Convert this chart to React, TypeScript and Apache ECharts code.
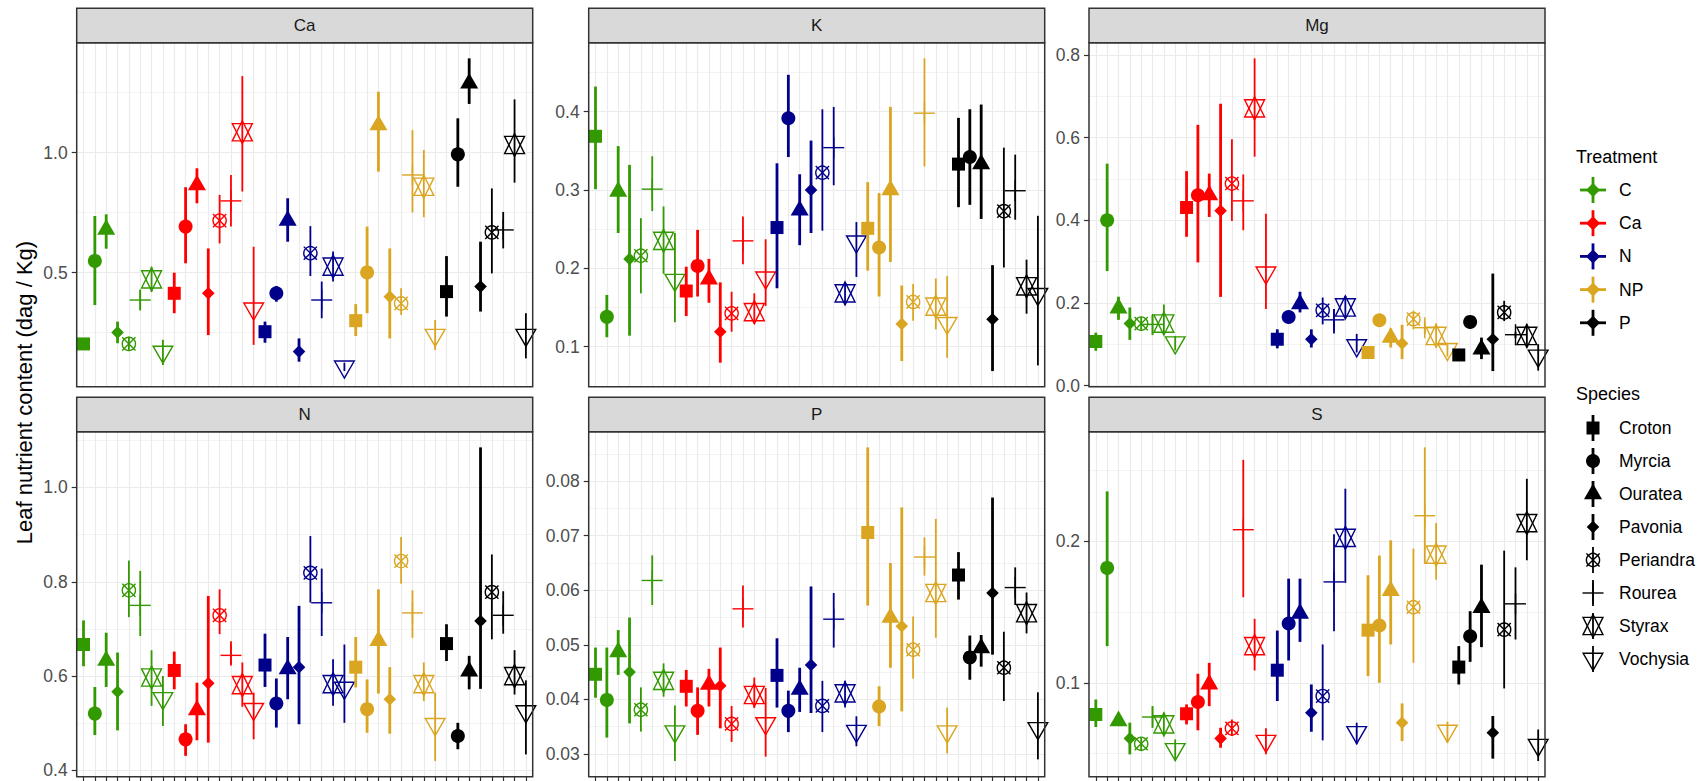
import React, { useEffect, useRef } from 'react';
import * as echarts from 'echarts';

// ---- categories ----
const treatments = ['C', 'Ca', 'N', 'NP', 'P'];
const species = ['Croton', 'Myrcia', 'Ouratea', 'Pavonia', 'Periandra', 'Rourea', 'Styrax', 'Vochysia'];
const treatmentColors = ['#339900', '#FF0000', '#00008B', '#DAA520', '#000000'];

// ---- values: 40 per nutrient, ordered treatment (C, Ca, N, NP, P) x species ----
const caMean = [
  0.203, 0.549, 0.680, 0.251, 0.203, 0.386, 0.472, 0.170,
  0.414, 0.692, 0.865, 0.414, 0.717, 0.799, 1.085, 0.350,
  0.254, 0.414, 0.717, 0.171, 0.581, 0.386, 0.525, 0.108,
  0.300, 0.501, 1.115, 0.400, 0.372, 0.907, 0.858, 0.240,
  0.421, 0.993, 1.289, 0.442, 0.668, 0.678, 1.032, 0.240,
];
const caLow = [
  0.190, 0.365, 0.600, 0.206, 0.178, 0.344, 0.420, 0.115,
  0.331, 0.539, 0.789, 0.240, 0.622, 0.692, 0.838, 0.199,
  0.208, 0.379, 0.629, 0.129, 0.486, 0.310, 0.463, 0.090,
  0.236, 0.331, 0.921, 0.226, 0.324, 0.751, 0.731, 0.178,
  0.317, 0.858, 1.203, 0.338, 0.497, 0.601, 0.875, 0.143,
];
const caHigh = [
  0.225, 0.736, 0.743, 0.296, 0.233, 0.428, 0.525, 0.220,
  0.500, 0.856, 0.935, 0.601, 0.824, 0.907, 1.319, 0.608,
  0.296, 0.444, 0.810, 0.226, 0.694, 0.463, 0.588, 0.125,
  0.369, 0.692, 1.254, 0.601, 0.435, 1.094, 1.011, 0.303,
  0.569, 1.143, 1.393, 0.629, 0.851, 0.753, 1.222, 0.331,
];

const kMean = [
  0.3685, 0.138, 0.298, 0.212, 0.216, 0.301, 0.235, 0.185,
  0.171, 0.203, 0.186, 0.119, 0.1425, 0.235, 0.144, 0.188,
  0.252, 0.3915, 0.274, 0.300, 0.322, 0.354, 0.168, 0.234,
  0.251, 0.2265, 0.300, 0.129, 0.157, 0.398, 0.151, 0.130,
  0.333, 0.342, 0.333, 0.135, 0.273, 0.299, 0.177, 0.167,
];
const kLow = [
  0.301, 0.112, 0.245, 0.114, 0.168, 0.273, 0.193, 0.131,
  0.139, 0.164, 0.156, 0.0795, 0.119, 0.205, 0.129, 0.152,
  0.1745, 0.342, 0.2295, 0.245, 0.248, 0.306, 0.153, 0.189,
  0.197, 0.164, 0.208, 0.0816, 0.133, 0.330, 0.122, 0.0858,
  0.278, 0.281, 0.263, 0.0688, 0.201, 0.262, 0.142, 0.076,
];
const kHigh = [
  0.432, 0.166, 0.356, 0.332, 0.264, 0.343, 0.279, 0.245,
  0.202, 0.249, 0.212, 0.182, 0.170, 0.266, 0.168, 0.237,
  0.334, 0.447, 0.320, 0.363, 0.403, 0.406, 0.182, 0.259,
  0.310, 0.296, 0.406, 0.178, 0.180, 0.468, 0.187, 0.190,
  0.392, 0.403, 0.409, 0.204, 0.354, 0.345, 0.211, 0.267,
];

const mgMean = [
  0.1065, 0.400, 0.187, 0.150, 0.150, 0.148, 0.150, 0.104,
  0.431, 0.4605, 0.461, 0.423, 0.489, 0.447, 0.671, 0.273,
  0.112, 0.166, 0.197, 0.112, 0.182, 0.159, 0.189, 0.097,
  0.080, 0.158, 0.116, 0.102, 0.1605, 0.140, 0.120, 0.088,
  0.074, 0.154, 0.088, 0.112, 0.177, 0.123, 0.120, 0.072,
];
const mgLow = [
  0.084, 0.277, 0.159, 0.1105, 0.134, 0.122, 0.124, 0.085,
  0.360, 0.298, 0.408, 0.2145, 0.398, 0.376, 0.554, 0.185,
  0.090, 0.152, 0.177, 0.092, 0.148, 0.126, 0.165, 0.080,
  0.070, 0.151, 0.092, 0.064, 0.136, 0.125, 0.100, 0.070,
  0.068, 0.148, 0.064, 0.035, 0.156, 0.115, 0.092, 0.036,
];
const mgHigh = [
  0.128, 0.537, 0.215, 0.189, 0.166, 0.170, 0.196, 0.120,
  0.519, 0.631, 0.513, 0.682, 0.596, 0.511, 0.792, 0.416,
  0.136, 0.181, 0.227, 0.136, 0.213, 0.185, 0.217, 0.125,
  0.090, 0.165, 0.138, 0.147, 0.181, 0.155, 0.150, 0.100,
  0.080, 0.160, 0.116, 0.271, 0.205, 0.130, 0.148, 0.100,
];

const nMean = [
  0.667, 0.5205, 0.633, 0.567, 0.782, 0.750, 0.597, 0.553,
  0.612, 0.466, 0.528, 0.585, 0.729, 0.644, 0.581, 0.530,
  0.6235, 0.542, 0.615, 0.619, 0.819, 0.7555, 0.583, 0.575,
  0.619, 0.530, 0.675, 0.551, 0.844, 0.734, 0.583, 0.498,
  0.669, 0.473, 0.610, 0.717, 0.778, 0.729, 0.600, 0.525,
];
const nLow = [
  0.621, 0.475, 0.577, 0.485, 0.725, 0.685, 0.537, 0.494,
  0.572, 0.431, 0.464, 0.459, 0.689, 0.624, 0.535, 0.466,
  0.577, 0.491, 0.551, 0.498, 0.756, 0.685, 0.537, 0.501,
  0.576, 0.480, 0.563, 0.478, 0.796, 0.681, 0.547, 0.420,
  0.632, 0.445, 0.572, 0.573, 0.678, 0.690, 0.561, 0.434,
];
const nHigh = [
  0.718, 0.577, 0.692, 0.650, 0.845, 0.823, 0.655, 0.600,
  0.652, 0.498, 0.586, 0.770, 0.784, 0.674, 0.629, 0.565,
  0.690, 0.595, 0.683, 0.749, 0.897, 0.828, 0.636, 0.667,
  0.683, 0.593, 0.784, 0.619, 0.895, 0.782, 0.629, 0.565,
  0.710, 0.501, 0.643, 1.085, 0.858, 0.780, 0.655, 0.591,
];

const pMean = [
  0.0446, 0.0399, 0.0487, 0.0450, 0.0381, 0.0618, 0.0434, 0.0341,
  0.0424, 0.0379, 0.0427, 0.0425, 0.0355, 0.0566, 0.0408, 0.0356,
  0.0444, 0.0379, 0.0418, 0.0463, 0.0388, 0.0547, 0.0411, 0.0342,
  0.0706, 0.0387, 0.0550, 0.0534, 0.0491, 0.0661, 0.0595, 0.0341,
  0.0628, 0.0477, 0.0494, 0.0595, 0.0458, 0.0605, 0.0558, 0.0347,
];
const pLow = [
  0.0403, 0.0330, 0.0445, 0.0356, 0.0341, 0.0573, 0.0405, 0.0287,
  0.0387, 0.0335, 0.0387, 0.0347, 0.0322, 0.0532, 0.0384, 0.0295,
  0.0385, 0.0340, 0.0377, 0.0375, 0.0340, 0.0495, 0.0385, 0.0314,
  0.0572, 0.0351, 0.0458, 0.0378, 0.0438, 0.0627, 0.0513, 0.0301,
  0.0583, 0.0436, 0.0460, 0.0482, 0.0397, 0.0573, 0.0521, 0.0290,
];
const pHigh = [
  0.0495, 0.0495, 0.0527, 0.0550, 0.0422, 0.0664, 0.0466, 0.0389,
  0.0454, 0.0422, 0.0456, 0.0495, 0.0388, 0.0609, 0.0440, 0.0421,
  0.0512, 0.0416, 0.0458, 0.0607, 0.0434, 0.0595, 0.0434, 0.0369,
  0.0862, 0.0424, 0.0650, 0.0752, 0.0552, 0.0697, 0.0731, 0.0385,
  0.0670, 0.0517, 0.0518, 0.0770, 0.0524, 0.0642, 0.0596, 0.0413,
];

const sMean = [
  0.0776, 0.1812, 0.073, 0.0607, 0.0569, 0.0758, 0.0706, 0.053,
  0.0781, 0.0864, 0.099, 0.0607, 0.0678, 0.2082, 0.1259, 0.0588,
  0.1089, 0.1419, 0.149, 0.0788, 0.0906, 0.1713, 0.2024, 0.065,
  0.1372, 0.1405, 0.165, 0.0718, 0.1534, 0.2181, 0.1906, 0.066,
  0.1111, 0.1329, 0.153, 0.0647, 0.1376, 0.1558, 0.2129, 0.056,
];
const sLow = [
  0.0687, 0.1259, 0.070, 0.0494, 0.0518, 0.0682, 0.0635, 0.045,
  0.0706, 0.0664, 0.0835, 0.0541, 0.0624, 0.1605, 0.1087, 0.0494,
  0.0871, 0.1158, 0.1289, 0.0654, 0.0593, 0.1365, 0.1706, 0.0565,
  0.1047, 0.100, 0.1271, 0.0588, 0.1141, 0.184, 0.1729, 0.0576,
  0.0988, 0.1148, 0.1252, 0.0464, 0.096, 0.1306, 0.1866, 0.0447,
];
const sHigh = [
  0.0882, 0.2353, 0.078, 0.0718, 0.0612, 0.0835, 0.0788, 0.060,
  0.0847, 0.1064, 0.1141, 0.0682, 0.0741, 0.2576, 0.1452, 0.0678,
  0.1369, 0.1736, 0.1736, 0.0988, 0.1271, 0.205, 0.2372, 0.0718,
  0.176, 0.1899, 0.2007, 0.0854, 0.1948, 0.2664, 0.2129, 0.0725,
  0.1259, 0.1506, 0.1835, 0.0765, 0.1934, 0.1816, 0.2442, 0.067,
];

// ---- y tick labels per panel ----
const caBreaks = [0.5, 1.0];
const kBreaks = [0.1, 0.2, 0.3, 0.4];
const mgBreaks = [0.0, 0.2, 0.4, 0.6, 0.8];
const nBreaks = [0.4, 0.6, 0.8, 1.0];
const pBreaks = [0.03, 0.04, 0.05, 0.06, 0.07, 0.08];
const sBreaks = [0.1, 0.2];

const panels = [
  { name: 'Ca', mean: caMean, low: caLow, high: caHigh, breaks: caBreaks, digits: 1, splitNumber: 3 },
  { name: 'K', mean: kMean, low: kLow, high: kHigh, breaks: kBreaks, digits: 1, splitNumber: 5 },
  { name: 'Mg', mean: mgMean, low: mgLow, high: mgHigh, breaks: mgBreaks, digits: 1, splitNumber: 4 },
  { name: 'N', mean: nMean, low: nLow, high: nHigh, breaks: nBreaks, digits: 1, splitNumber: 4 },
  { name: 'P', mean: pMean, low: pLow, high: pHigh, breaks: pBreaks, digits: 2, splitNumber: 6 },
  { name: 'S', mean: sMean, low: sLow, high: sHigh, breaks: sBreaks, digits: 1, splitNumber: 3 },
];

// ---- layout ----
const FONT = '"Liberation Sans", Arial, Helvetica, sans-serif';
const COL_LEFT = [76.7, 588.7, 1089];
const PANEL_W = 456;
const ROW_TOP = [42.7, 431.7];
const ROW_H = [344, 345];
const STRIP_H = 34.4;
const GRID_COLOR = '#ebebeb';
const DARK = '#333333';

// one x slot per treatment x species combination
const xPositions = treatments.flatMap((_, t) => species.map((__, s) => t * species.length + s + 1));

// R-style triangle constants
const TRC0 = Math.sqrt((4 * Math.PI) / (3 * Math.sqrt(3)));
const TRC1 = (TRC0 * Math.sqrt(3)) / 2;
const TRC2 = TRC0 / 2;

function isOpen(s: number) {
  return s >= 4;
}

function markerEls(s: number, cx: number, cy: number, color: string): any[] {
  const lw = 1.4;
  const open = { fill: 'none', stroke: color, lineWidth: lw };
  switch (s) {
    case 0:
      return [{ type: 'rect', shape: { x: cx - 6.5, y: cy - 6.5, width: 13, height: 13 }, style: { fill: color } }];
    case 1:
      return [{ type: 'circle', shape: { cx, cy, r: 7 }, style: { fill: color } }];
    case 2: {
      const r = 6.7;
      return [{
        type: 'polygon',
        shape: { points: [[cx, cy - TRC0 * r], [cx + TRC1 * r, cy + TRC2 * r], [cx - TRC1 * r, cy + TRC2 * r]] },
        style: { fill: color },
      }];
    }
    case 3: {
      const d = 6.3;
      return [{
        type: 'polygon',
        shape: { points: [[cx, cy - d], [cx + d, cy], [cx, cy + d], [cx - d, cy]] },
        style: { fill: color },
      }];
    }
    case 4: {
      const r = 6.6;
      return [
        { type: 'circle', shape: { cx, cy, r }, style: { ...open } },
        { type: 'line', shape: { x1: cx - r, y1: cy - r, x2: cx + r, y2: cy + r }, style: { stroke: color, lineWidth: lw } },
        { type: 'line', shape: { x1: cx - r, y1: cy + r, x2: cx + r, y2: cy - r }, style: { stroke: color, lineWidth: lw } },
      ];
    }
    case 5: {
      const h = 10.5;
      return [
        { type: 'line', shape: { x1: cx - h, y1: cy, x2: cx + h, y2: cy }, style: { stroke: color, lineWidth: lw } },
        { type: 'line', shape: { x1: cx, y1: cy - h, x2: cx, y2: cy + h }, style: { stroke: color, lineWidth: lw } },
      ];
    }
    case 6: {
      // triangles point-up and point-down, bars pulled out towards the tips
      const R = 7.4;
      const rr = TRC0 * R;
      const yc = 0.5 * (TRC2 * R + rr);
      const xc = TRC1 * R;
      return [
        { type: 'polygon', shape: { points: [[cx, cy - rr], [cx + xc, cy + yc], [cx - xc, cy + yc]] }, style: { ...open } },
        { type: 'polygon', shape: { points: [[cx, cy + rr], [cx + xc, cy - yc], [cx - xc, cy - yc]] }, style: { ...open } },
      ];
    }
    default: {
      const R = 7.3;
      return [{
        type: 'polygon',
        shape: { points: [[cx, cy + TRC0 * R], [cx + TRC1 * R, cy - TRC2 * R], [cx - TRC1 * R, cy - TRC2 * R]] },
        style: { ...open },
      }];
    }
  }
}

function renderPoint(params: any, api: any) {
  const x = api.value(0);
  const m = api.value(1);
  const lo = api.value(2);
  const hi = api.value(3);
  const t = api.value(4);
  const s = api.value(5);
  const color = treatmentColors[t];
  const pm = api.coord([x, m]);
  const pl = api.coord([x, lo]);
  const ph = api.coord([x, hi]);
  return {
    type: 'group',
    children: [
      {
        type: 'line',
        shape: { x1: pm[0], y1: pl[1], x2: pm[0], y2: ph[1] },
        style: { stroke: color, lineWidth: isOpen(s) ? 1.8 : 2.8 },
      },
      ...markerEls(s, pm[0], pm[1], color),
    ],
  };
}

function buildOption() {
  const grids: any[] = [];
  const xAxes: any[] = [];
  const yAxes: any[] = [];
  const series: any[] = [];
  const graphics: any[] = [];

  panels.forEach((p, i) => {
    const row = Math.floor(i / 3);
    const col = i % 3;
    const left = COL_LEFT[col];
    const top = ROW_TOP[row];
    const height = ROW_H[row];
    grids.push({ left, top, width: PANEL_W, height, show: false, containLabel: false, outerBoundsMode: 'none' });

    const lo = Math.min(...p.low);
    const hi = Math.max(...p.high);
    const pad = (hi - lo) * 0.05;

    xAxes.push({
      type: 'value',
      gridIndex: i,
      min: 0.4,
      max: 40.6,
      axisLine: { show: false },
      axisLabel: { show: false },
      axisTick: { show: row === 1, length: 5, lineStyle: { color: DARK, width: 1.2 }, customValues: xPositions },
      splitLine: { show: true, lineStyle: { color: GRID_COLOR, width: 1.2 } },
    });
    yAxes.push({
      type: 'value',
      gridIndex: i,
      min: lo - pad,
      max: hi + pad,
      splitNumber: p.splitNumber,
      axisLine: { show: false },
      axisTick: { show: true, length: 5, lineStyle: { color: DARK, width: 1.2 }, customValues: p.breaks },
      axisLabel: {
        customValues: p.breaks,
        formatter: (v: number) => v.toFixed(p.digits),
        color: '#4d4d4d',
        fontSize: 17.5,
        fontFamily: FONT,
        margin: 9,
      },
      splitLine: { show: true, lineStyle: { color: GRID_COLOR, width: 1.2 } },
      minorTick: { show: false, splitNumber: 2 },
      minorSplitLine: { show: true, lineStyle: { color: GRID_COLOR, width: 0.6 } },
    });

    const data = p.mean.map((v, k) => [xPositions[k], v, p.low[k], p.high[k], Math.floor(k / species.length), k % species.length]);
    series.push({
      type: 'custom',
      xAxisIndex: i,
      yAxisIndex: i,
      data,
      encode: { x: 0, y: [1, 2, 3] },
      renderItem: renderPoint,
      clip: false,
      silent: true,
      z: 5,
    });

    // panel border and strip
    graphics.push({
      type: 'rect',
      z: 50,
      shape: { x: left, y: top, width: PANEL_W, height },
      style: { fill: 'none', stroke: DARK, lineWidth: 1.5 },
    });
    graphics.push({
      type: 'rect',
      z: 50,
      shape: { x: left, y: top - STRIP_H, width: PANEL_W, height: STRIP_H },
      style: { fill: '#d9d9d9', stroke: DARK, lineWidth: 1.5 },
    });
    graphics.push({
      type: 'text',
      z: 51,
      x: left + PANEL_W / 2,
      y: top - STRIP_H / 2,
      style: { text: p.name, font: `17px ${FONT}`, fill: '#1a1a1a', textAlign: 'center', textVerticalAlign: 'middle' },
    });
  });

  // y-axis title
  graphics.push({
    type: 'text',
    z: 51,
    x: 24,
    y: 392.5,
    rotation: Math.PI / 2,
    style: {
      text: 'Leaf nutrient content (dag / Kg)',
      font: `22px ${FONT}`,
      fill: '#000000',
      textAlign: 'center',
      textVerticalAlign: 'middle',
    },
  });

  // legends
  const keyX = 1593;
  const labelX = 1619;
  graphics.push({
    type: 'text', z: 51, x: 1576, y: 157,
    style: { text: 'Treatment', font: `18px ${FONT}`, fill: '#000000', textAlign: 'left', textVerticalAlign: 'middle' },
  });
  treatments.forEach((t, i) => {
    const y = 190 + i * 33.2;
    const c = treatmentColors[i];
    graphics.push({ type: 'line', z: 51, shape: { x1: keyX, y1: y - 13, x2: keyX, y2: y + 13 }, style: { stroke: c, lineWidth: 2.8 } });
    graphics.push({ type: 'line', z: 51, shape: { x1: keyX - 13, y1: y, x2: keyX + 13, y2: y }, style: { stroke: c, lineWidth: 2.8 } });
    graphics.push({ type: 'polygon', z: 51, shape: { points: [[keyX, y - 7], [keyX + 7, y], [keyX, y + 7], [keyX - 7, y]] }, style: { fill: c } });
    graphics.push({
      type: 'text', z: 51, x: labelX, y,
      style: { text: t, font: `17.5px ${FONT}`, fill: '#000000', textAlign: 'left', textVerticalAlign: 'middle' },
    });
  });
  graphics.push({
    type: 'text', z: 51, x: 1576, y: 394,
    style: { text: 'Species', font: `18px ${FONT}`, fill: '#000000', textAlign: 'left', textVerticalAlign: 'middle' },
  });
  species.forEach((s, i) => {
    const y = 428 + i * 33;
    graphics.push({
      type: 'line', z: 51,
      shape: { x1: keyX, y1: y - 13, x2: keyX, y2: y + 13 },
      style: { stroke: '#000000', lineWidth: isOpen(i) ? 1.8 : 2.8 },
    });
    markerEls(i, keyX, y, '#000000').forEach((el) => graphics.push({ ...el, z: 51 }));
    graphics.push({
      type: 'text', z: 51, x: labelX, y,
      style: { text: s, font: `17.5px ${FONT}`, fill: '#000000', textAlign: 'left', textVerticalAlign: 'middle' },
    });
  });

  return {
    animation: false,
    backgroundColor: '#ffffff',
    grid: grids,
    xAxis: xAxes,
    yAxis: yAxes,
    series,
    graphic: { elements: graphics },
  };
}

export default function App() {
  const ref = useRef<HTMLDivElement>(null);
  useEffect(() => {
    if (!ref.current) return;
    const chart = echarts.init(ref.current, undefined, { renderer: 'svg' });
    chart.setOption(buildOption() as any);
    return () => chart.dispose();
  }, []);
  return (
    <div
      ref={ref}
      style={{ position: 'fixed', left: 0, top: 0, width: 1703, height: 781, background: '#ffffff' }}
    />
  );
}
